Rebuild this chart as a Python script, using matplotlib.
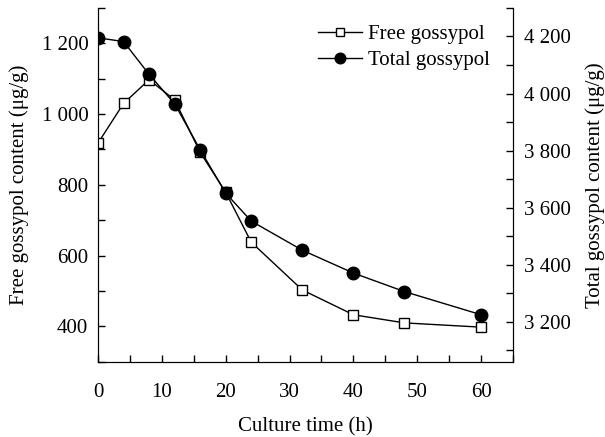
import matplotlib.pyplot as plt
from matplotlib.ticker import MultipleLocator, FuncFormatter

plt.rcParams['font.family'] = ['Liberation Serif', 'DejaVu Serif']
plt.rcParams['mathtext.fontset'] = 'stix'

# culture time (h) and gossypol contents (ug/g)
hours = [0, 4, 8, 12, 16, 20, 24, 32, 40, 48, 60]
free_gossypol = [918, 1030, 1097, 1040, 892, 779, 638, 503, 433, 410, 398]
total_gossypol = [4195, 4182, 4067, 3964, 3803, 3651, 3553, 3451, 3371, 3306, 3225]


def spaced(v, pos):
    # thousands separated by a space, as in the original
    return f"{int(v):,}".replace(',', ' ')


fig, ax = plt.subplots(figsize=(6.05, 4.37), dpi=100)
plt.subplots_adjust(left=0.162, right=0.848, bottom=0.172, top=0.982)
ax2 = ax.twinx()

l1, = ax.plot(hours, free_gossypol, color='black', lw=1, marker='s', ms=7.5,
              mfc='white', mec='black', mew=1, label='Free gossypol')
l2, = ax2.plot(hours, total_gossypol, color='black', lw=1, marker='o', ms=9,
               mfc='black', mec='black', label='Total gossypol')

ax.set_xlim(0, 65)
ax.set_ylim(300, 1300)
ax2.set_ylim(3060, 4300)

ax.xaxis.set_major_locator(MultipleLocator(10))
ax.xaxis.set_minor_locator(MultipleLocator(5))
ax.yaxis.set_minor_locator(MultipleLocator(100))
ax2.yaxis.set_minor_locator(MultipleLocator(100))
ax.yaxis.set_major_formatter(FuncFormatter(spaced))
ax2.yaxis.set_major_formatter(FuncFormatter(spaced))
ax.set_yticks([400, 600, 800, 1000, 1200])
ax2.set_yticks([3200, 3400, 3600, 3800, 4000, 4200])

fs = 15
for a in (ax, ax2):
    a.spines['top'].set_visible(False)
    a.tick_params(which='both', direction='in', labelsize=fs, width=1, length=5)
ax.tick_params(axis='x', pad=15)
ax.tick_params(axis='y', pad=7)
ax2.tick_params(axis='y', pad=8)

ax.set_xlabel('Culture time (h)', fontsize=fs, labelpad=11)
ax.set_ylabel('Free gossypol content (μg/g)', fontsize=fs, labelpad=9)
ax2.set_ylabel('Total gossypol content (μg/g)', fontsize=fs, labelpad=10)

ax2.legend(handles=[l1, l2], loc='upper right', frameon=False, fontsize=fs,
           handlelength=2.1, handletextpad=0.3, labelspacing=0.3,
           markerscale=0.85, borderaxespad=0, bbox_to_anchor=(0.965, 0.976))

fig.savefig('out.png', dpi=100)
